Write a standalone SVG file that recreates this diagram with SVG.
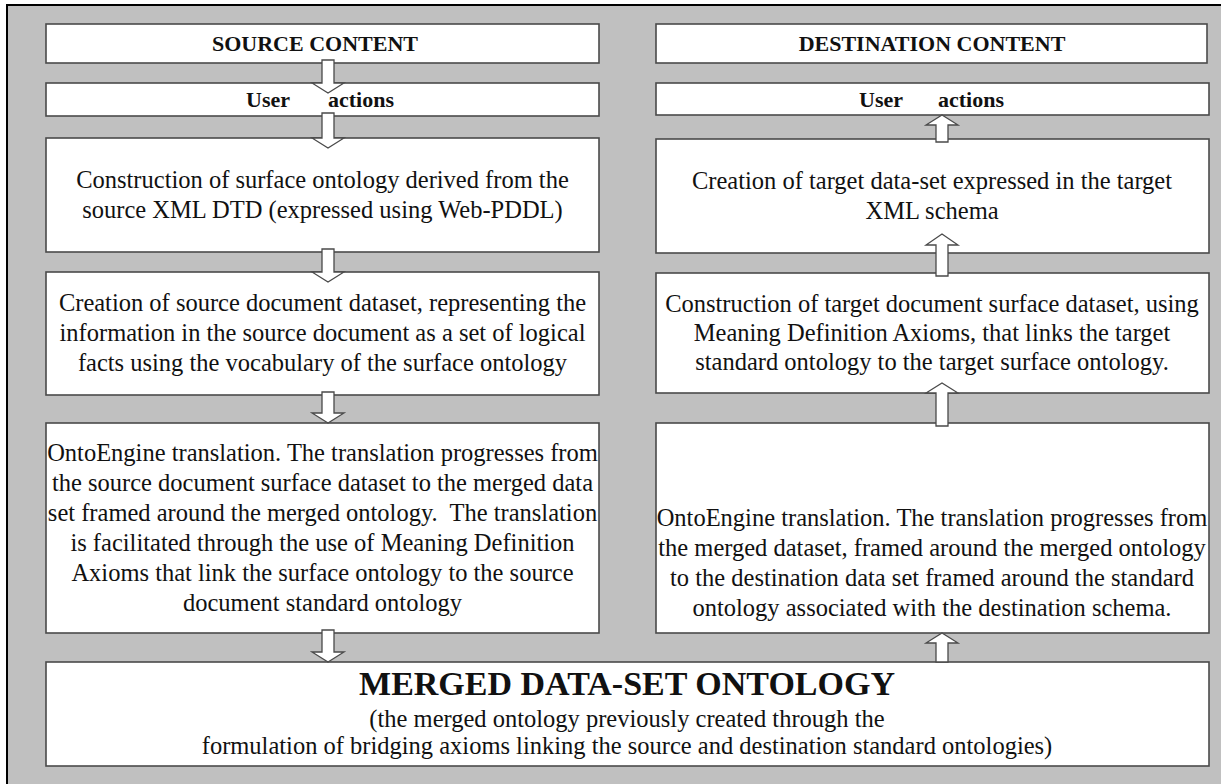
<svg xmlns="http://www.w3.org/2000/svg" width="1221" height="784" viewBox="0 0 1221 784">
<style>
.frame{fill:#c0c0c0;stroke:#000;stroke-width:2}
.box{fill:#fff;stroke:#4a4a4a;stroke-width:1.6}
.arr{fill:#fff;stroke:#4a4a4a;stroke-width:1.3;stroke-linejoin:miter}
text{font-family:"Liberation Serif","Times New Roman",serif;fill:#111;text-anchor:middle}
.t{font-size:24.5px}
.h{font-size:22px;font-weight:bold}
.big{font-size:34px;font-weight:bold}
</style>
<rect class="frame" x="7" y="5" width="1240" height="800"/>
<g id="nodes">
<g id="source-content"><rect class="box" x="46" y="24" width="553" height="39"/><text class="h" x="315" y="51">SOURCE CONTENT</text></g>
<g id="user-actions-left"><rect class="box" x="46" y="83" width="553" height="33"/><text class="h" y="107"><tspan x="268">User</tspan><tspan x="361">actions</tspan></text></g>
<g id="construction-surface"><rect class="box" x="46" y="138" width="553" height="114"/>
<text class="t" x="322.5" y="188">Construction of surface ontology derived from the</text>
<text class="t" x="322.5" y="218">source XML DTD (expressed using Web-PDDL)</text></g>
<g id="creation-source"><rect class="box" x="46" y="272" width="553" height="123"/>
<text class="t" x="322.5" y="311">Creation of source document dataset, representing the</text>
<text class="t" x="322.5" y="341">information in the source document as a set of logical</text>
<text class="t" x="322.5" y="371">facts using the vocabulary of the surface ontology</text></g>
<g id="ontoengine-left"><rect class="box" x="46" y="423" width="553" height="210"/>
<text class="t" x="322.5" y="461">OntoEngine translation. The translation progresses from</text>
<text class="t" x="322.5" y="491">the source document surface dataset to the merged data</text>
<text class="t" x="322.5" y="521" xml:space="preserve">set framed around the merged ontology.  The translation</text>
<text class="t" x="322.5" y="551">is facilitated through the use of Meaning Definition</text>
<text class="t" x="322.5" y="581">Axioms that link the surface ontology to the source</text>
<text class="t" x="322.5" y="611">document standard ontology</text></g>
<g id="destination-content"><rect class="box" x="656" y="24" width="551" height="39"/><text class="h" x="932" y="51">DESTINATION CONTENT</text></g>
<g id="user-actions-right"><rect class="box" x="656" y="83" width="553" height="32"/><text class="h" y="107"><tspan x="881">User</tspan><tspan x="971">actions</tspan></text></g>
<g id="creation-target"><rect class="box" x="656" y="139" width="553" height="114"/>
<text class="t" x="932" y="189">Creation of target data-set expressed in the target</text>
<text class="t" x="932" y="219">XML schema</text></g>
<g id="construction-target"><rect class="box" x="656" y="273" width="553" height="120"/>
<text class="t" x="932" y="312">Construction of target document surface dataset, using</text>
<text class="t" x="932" y="341">Meaning Definition Axioms, that links the target</text>
<text class="t" x="932" y="370">standard ontology to the target surface ontology.</text></g>
<g id="ontoengine-right"><rect class="box" x="656" y="423" width="553" height="210"/>
<text class="t" x="932" y="526">OntoEngine translation. The translation progresses from</text>
<text class="t" x="932" y="556">the merged dataset, framed around the merged ontology</text>
<text class="t" x="932" y="586">to the destination data set framed around the standard</text>
<text class="t" x="932" y="616">ontology associated with the destination schema.</text></g>
<g id="merged"><rect class="box" x="46" y="662" width="1163" height="104"/>
<text class="big" x="627" y="695">MERGED DATA-SET ONTOLOGY</text>
<text class="t" x="627" y="727">(the merged ontology previously created through the</text>
<text class="t" x="627" y="754">formulation of bridging axioms linking the source and destination standard ontologies)</text></g>
</g>
<g id="connectors">
<path class="arr" d="M322 60H334V83H344L328 93L312 83H322Z"/>
<path class="arr" d="M322 113H334V138H344L328 148L312 138H322Z"/>
<path class="arr" d="M322 249H334V272H344L328 282L312 272H322Z"/>
<path class="arr" d="M322 392H334V413H344L328 423L312 413H322Z"/>
<path class="arr" d="M322 630H334V652H344L328 662L312 652H322Z"/>
<path class="arr" d="M936 142H948V125H958L942 115L926 125H936Z"/>
<path class="arr" d="M936 276H948V245H958L942 234L926 245H936Z"/>
<path class="arr" d="M936 426H948V393H958L942 383L926 393H936Z"/>
<path class="arr" d="M936 662H948V643H958L942 633L926 643H936Z"/>
</g>
</svg>
